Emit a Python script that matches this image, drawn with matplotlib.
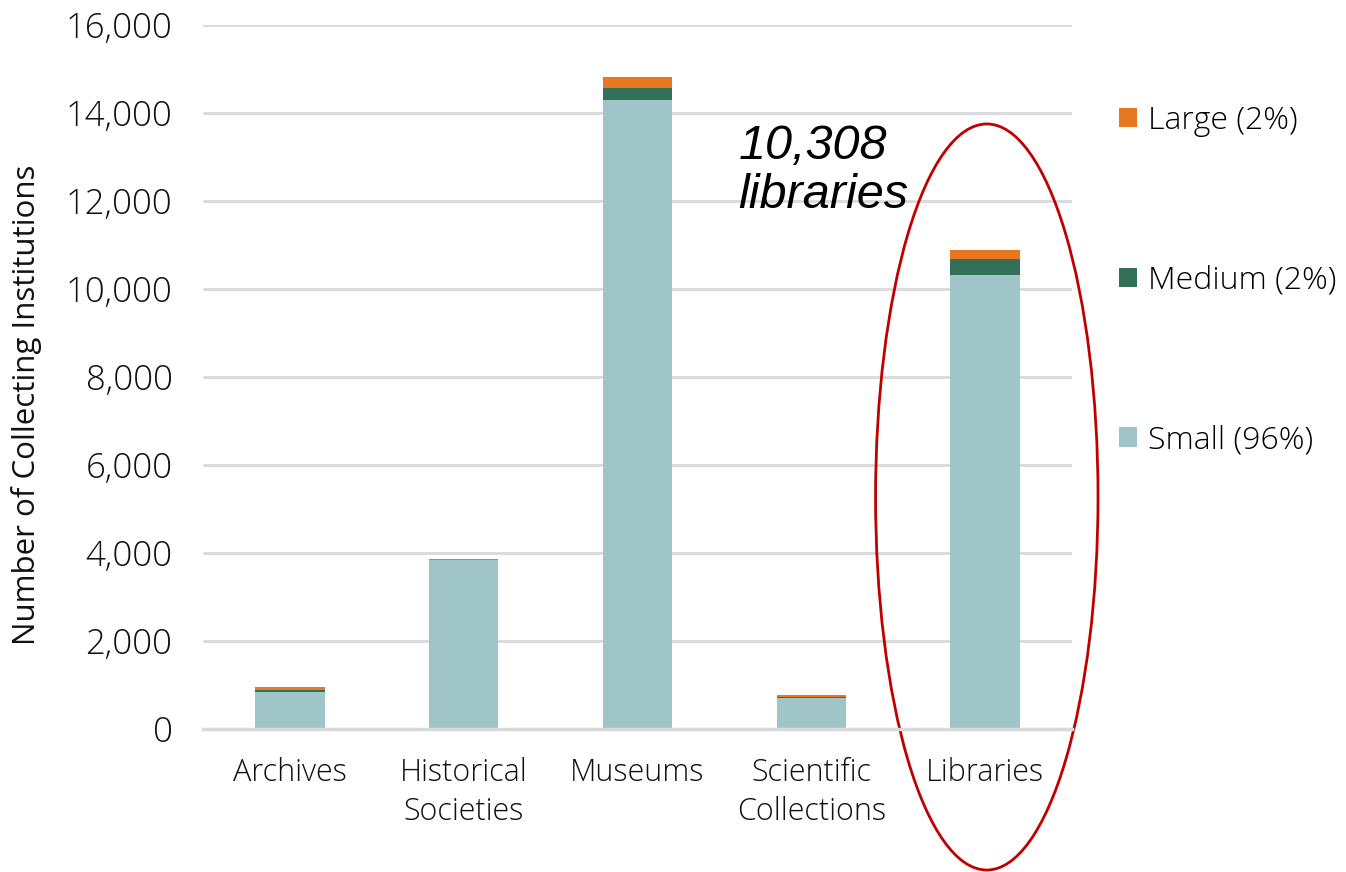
import matplotlib
matplotlib.use("Agg")
import matplotlib.pyplot as plt
import numpy as np
from matplotlib.patches import Ellipse
from matplotlib.ticker import FuncFormatter

categories = ["Archives", "Historical\nSocieties", "Museums", "Scientific\nCollections", "Libraries"]
small = [850, 3830, 14290, 700, 10308]
medium = [45, 15, 280, 30, 364]
large = [65, 25, 243, 45, 220]

legend_labels = ["Small (96%)", "Medium (2%)", "Large (2%)"]
colors = ["#9FC5C9", "#33705A", "#E87722"]

plt.rcParams["font.family"] = ["Open Sans", "DejaVu Sans"]
plt.rcParams["font.weight"] = 300

fig = plt.figure(figsize=(13.46, 8.72), dpi=100)
ax = fig.add_axes([0.1508, 0.164, 0.6456, 0.8073])

x = np.arange(len(categories))
width = 0.4
small_arr = np.array(small)
medium_arr = np.array(medium)
large_arr = np.array(large)

bars_small = ax.bar(x, small_arr, width, color=colors[0], label=legend_labels[0])
bars_medium = ax.bar(x, medium_arr, width, bottom=small_arr, color=colors[1], label=legend_labels[1])
bars_large = ax.bar(x, large_arr, width, bottom=small_arr + medium_arr, color=colors[2], label=legend_labels[2])

ax.set_xlim(-0.5, len(categories) - 0.5)
ax.set_ylim(0, 16000)
ax.set_yticks(np.arange(0, 16001, 2000))
ax.yaxis.set_major_formatter(FuncFormatter(lambda v, _: f"{int(v):,}"))
ax.set_xticks(x)
ax.set_xticklabels(categories, linespacing=1.3)

ax.tick_params(axis="y", length=0, pad=22, labelsize=25, labelcolor="#111111")
ax.tick_params(axis="x", length=0, pad=20, labelsize=22, labelcolor="#111111")

ax.grid(True, axis="y", color="#D9D9D9", linewidth=2)
ax.set_axisbelow(True)
for side in ["left", "right", "top"]:
    ax.spines[side].set_visible(False)
ax.spines["bottom"].set_color("#D9D9D9")
ax.spines["bottom"].set_linewidth(2.5)

ax.set_ylabel("Number of Collecting Institutions", fontsize=22.5, color="#111111")
ax.yaxis.set_label_coords(-0.185, 0.46)

ax.text(2.58, 13750, "10,308\nlibraries", fontsize=35, style="italic",
        family=["Liberation Sans", "DejaVu Sans"], ha="left", va="top", linespacing=1.1)

ellipse = Ellipse((4.01, 5273), 1.28, 16957, fill=False, edgecolor="#C00000",
                  linewidth=2, clip_on=False)
ax.add_patch(ellipse)

handles = [bars_large, bars_medium, bars_small]
labels = [legend_labels[2], legend_labels[1], legend_labels[0]]
ax.legend(handles, labels, loc="upper left", bbox_to_anchor=(1.04, 0.905),
          frameon=False, fontsize=23, handlelength=0.55, handleheight=0.55,
          handletextpad=0.35, labelspacing=4.0, borderaxespad=0)

fig.savefig("out.png", dpi=100)
plt.close(fig)
